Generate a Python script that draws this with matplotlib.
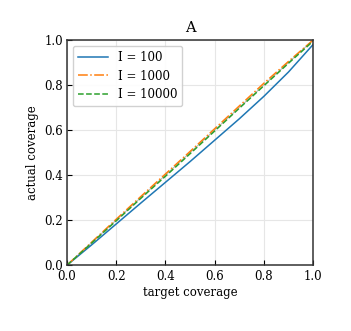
import numpy as np
import matplotlib.pyplot as plt

# target coverage levels
target = [0.0, 0.1, 0.2, 0.3, 0.4, 0.5, 0.6, 0.7, 0.8, 0.9, 1.0]

# actual coverage for each number of samples
cov_100 = [0.0, 0.09, 0.183, 0.276, 0.368, 0.46, 0.555, 0.65, 0.75, 0.858, 0.98]
cov_1000 = [0.0, 0.102, 0.204, 0.305, 0.405, 0.505, 0.606, 0.707, 0.808, 0.905, 1.0]
cov_10000 = [0.0, 0.098, 0.197, 0.297, 0.395, 0.495, 0.596, 0.697, 0.797, 0.897, 0.995]

plt.rcParams['font.family'] = ['DejaVu Serif']
plt.rcParams['font.size'] = 8.5

fig = plt.figure(figsize=(3.51, 3.31), dpi=100)
ax = fig.add_axes([0.191, 0.199, 0.701, 0.68])

# ideal calibration line
ax.plot([0, 1], [0, 1], color='#bbbbbb', lw=0.8, zorder=1)

ax.plot(target, cov_100, color='#1f77b4', lw=1.1, label='I = 100')
ax.plot(target, cov_1000, color='#ff7f0e', lw=1.1, ls='-.', label='I = 1000')
ax.plot(target, cov_10000, color='#2ca02c', lw=1.1, ls='--', label='I = 10000')

ax.set_xlim(0, 1)
ax.set_ylim(0, 1)
ax.set_xticks(np.arange(0, 1.01, 0.2))
ax.set_yticks(np.arange(0, 1.01, 0.2))
ax.tick_params(direction='in', length=3.5, width=0.8)
ax.tick_params(axis='x', pad=3.5)
ax.tick_params(axis='y', pad=3)
ax.grid(True, color='#e6e6e6', lw=0.8)
ax.set_axisbelow(True)
for s in ax.spines.values():
    s.set_color('#333333')
    s.set_linewidth(1.1)

ax.set_xlabel('target coverage', labelpad=2)
ax.set_ylabel('actual coverage', labelpad=4)
ax.set_title('A', fontsize=10.5, pad=6)
ax.legend(loc='upper left', fontsize=8.5, handlelength=2.6, framealpha=0.9,
          edgecolor='#cccccc', fancybox=True)

fig.savefig('out.png', dpi=100)
